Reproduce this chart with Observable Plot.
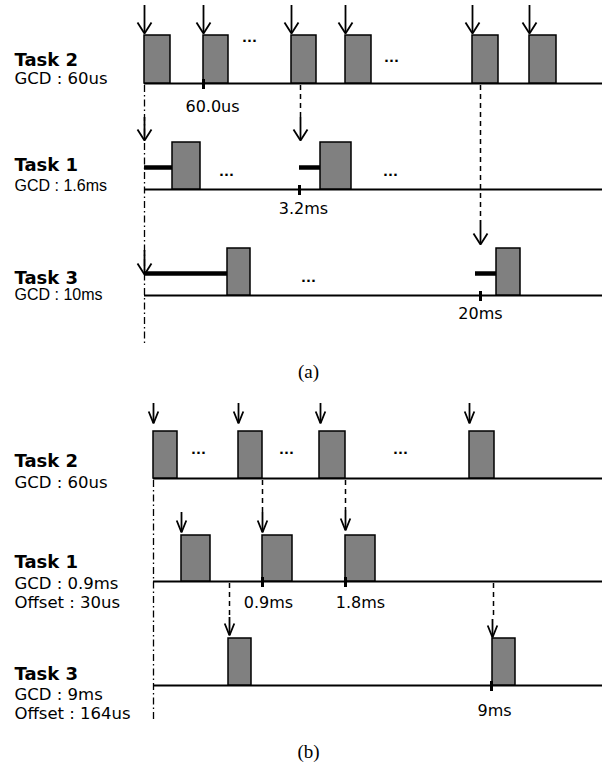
<!DOCTYPE html>
<html><head><meta charset="utf-8">
<script src="https://cdn.jsdelivr.net/npm/d3@7"></script>
<script src="https://cdn.jsdelivr.net/npm/@observablehq/plot@0.6"></script>
<style>html,body{margin:0;padding:0;background:#fff;} svg{display:block}</style>
</head><body><div id="chart"></div>
<script>
// ---- rows (timelines) ----
const rowNames = ["Task 2","Task 1","Task 3","Task 2","Task 1","Task 3"];
const rowParams = [["GCD : 60us"],["GCD : 1.6ms"],["GCD : 10ms"],["GCD : 60us"],["GCD : 0.9ms","Offset : 30us"],["GCD : 9ms","Offset : 164us"]];
const rowBase = [83,189,295,478,581,685];
const rowTop = [35,142,248,431,535,638];
const rowStart = [144,144,144,153,153,153];
const rowEnd = 602;
const nameY = [65,170,283,466,567,679];
const paramY = [[83],[190],[299],[487],[588,607],[699,718]];
const labelX = 14;

// ---- jobs (grey boxes) ----
const jobRow   = [0,0,0,0,0,0, 1,1, 2,2, 3,3,3,3, 4,4,4, 5,5];
const jobStart = [144,203,291,345,472,529, 172,320, 227,496, 153,238,319,469, 181,262,345, 228,492];
const jobEnd   = [170,228,316,371,498,556, 200,351, 250,520, 177,262,345,494, 210,292,375, 251,515];

// ---- releases (arrows) ----
const releaseRow = [0,0,0,0,0,0, 1,1, 2,2, 3,3,3,3, 4,4,4, 5,5];
const releaseX   = [144,203,291,345,472,529, 144,300, 144,480, 153,238,320,469, 181,262,345, 229,492];
const releaseTip = [33,33,33,33,33,33, 140,140, 274,244, 423,423,423,423, 532,532,530, 635,637];
const releaseLen = [28,23,24,20,20,18];

// ---- waiting (thick bars) ----
const waitRow = [1,1,2,2];
const waitStart = [144,299,144,475];
const waitEnd = [172,320,227,496];

// ---- ticks ----
const tickRow = [0,1,2,4,4,5];
const tickX = [203,299,480,262,345,491];
const tickLabel = ["60.0us","3.2ms","20ms","0.9ms","1.8ms","9ms"];
const tickLabelX = [212,303,480,268,360,494];
const tickLabelY = [111,213,318,607,607,715];

// ---- connectors ----
const linkX  = [144,300,480,153,262,345,229,493];
const linkY1 = [85,85,85,480,480,480,583,583];
const linkY2 = [346,117,220,720,512,510,617,619];
const linkKind = ["dashdot","dash","dash","dashdot","dash","dash","dash","dash"];

// ---- ellipses ----
const dotX = [249,391,226,390,308,198,286,400];
const dotY = [38,58,172,172,278,450,450,450];

// ---- captions ----
const captionText = ["(a)","(b)"];
const captionX = [308,308];
const captionY = [377,757];

// build tables
const rows = rowNames.map((name,i)=>({name, i, base:rowBase[i], top:rowTop[i], start:rowStart[i], end:rowEnd, ny:nameY[i]}));
const params = rowParams.flatMap((ps,i)=>ps.map((t,j)=>({t, i, y:paramY[i][j]})));
const jobs = jobRow.map((r,k)=>({x0:jobStart[k], x1:jobEnd[k], y1:rowTop[r], y2:rowBase[r]}));
const rels = releaseRow.map((r,k)=>({k, x:releaseX[k], tip:releaseTip[k], from:releaseTip[k]-releaseLen[r], panel: r<3?"a":"b"}));
// arrowhead wings (open V)
const headW = {a:7, b:4.8}, headH = {a:11, b:12};
const heads = rels.flatMap(d=>[
  {k:d.k, x:d.x-headW[d.panel], y:d.tip-headH[d.panel]},
  {k:d.k, x:d.x, y:d.tip},
  {k:d.k, x:d.x+headW[d.panel], y:d.tip-headH[d.panel]}
]);
const waits = waitRow.map((r,k)=>({x0:waitStart[k], x1:waitEnd[k], y:(rowTop[r]+rowBase[r])/2+1.5}));
const ticks = tickRow.map((r,k)=>({x:tickX[k], y1:rowBase[r]-4, y2:rowBase[r]+6, label:tickLabel[k], lx:tickLabelX[k], ly:tickLabelY[k]}));
const links = linkX.map((x,k)=>({x, y1:linkY1[k], y2:linkY2[k], kind:linkKind[k]}));
const dots = dotX.map((x,k)=>({x, y:dotY[k]}));
const caps = captionText.map((t,k)=>({t, x:captionX[k], y:captionY[k]}));
const arialRows = new Set([1,2]);

const chart = Plot.plot({
  width: 605, height: 766, margin: 0,
  x: {domain:[0,605], range:[0,605], axis:null},
  y: {domain:[0,766], range:[0,766], axis:null},
  style: {background:"white"},
  marks: [
    Plot.ruleX(links.filter(d=>d.kind==="dashdot"), {x:"x", y1:"y1", y2:"y2", stroke:"black", strokeWidth:1.3, strokeDasharray:"7,3,1.5,3"}),
    Plot.ruleX(links.filter(d=>d.kind==="dash"), {x:"x", y1:"y1", y2:"y2", stroke:"black", strokeWidth:1.5, strokeDasharray:"5,4"}),
    Plot.ruleY(rows, {y:"base", x1:"start", x2:"end", stroke:"black", strokeWidth:1.8}),
    Plot.ruleY(waits, {y:"y", x1:"x0", x2:"x1", stroke:"black", strokeWidth:4.5}),
    Plot.rect(jobs, {x1:"x0", x2:"x1", y1:"y1", y2:"y2", fill:"#808080", stroke:"black", strokeWidth:1.5}),
    Plot.ruleX(ticks, {x:"x", y1:"y1", y2:"y2", stroke:"black", strokeWidth:3}),
    Plot.ruleX(rels, {x:"x", y1:"from", y2:"tip", stroke:"black", strokeWidth:1.8}),
    Plot.line(heads, {x:"x", y:"y", z:"k", stroke:"black", strokeWidth:1.8, curve:"linear", strokeLinejoin:"miter", strokeLinecap:"butt"}),
    Plot.text(rows, {x:()=>labelX, y:"ny", text:"name", textAnchor:"start", lineAnchor:"bottom", fontFamily:"DejaVu Sans", fontWeight:"bold", fontSize:18, fill:"black"}),
    Plot.text(params.filter(d=>!arialRows.has(d.i)), {x:()=>labelX, y:"y", text:"t", textAnchor:"start", lineAnchor:"bottom", fontFamily:"DejaVu Sans", fontSize:16.5, fill:"black"}),
    Plot.text(params.filter(d=>arialRows.has(d.i)), {x:()=>labelX, y:"y", text:"t", textAnchor:"start", lineAnchor:"bottom", fontFamily:"Liberation Sans", fontSize:16, fill:"black"}),
    Plot.text(ticks, {x:"lx", y:"ly", text:"label", textAnchor:"middle", lineAnchor:"bottom", fontFamily:"DejaVu Sans", fontSize:16, fill:"black"}),
    Plot.text(dots, {x:"x", y:"y", text:()=>"...", textAnchor:"middle", lineAnchor:"bottom", dy:3, fontFamily:"DejaVu Sans", fontWeight:"bold", fontSize:13, fill:"black"}),
    Plot.text(caps, {x:"x", y:"y", text:"t", textAnchor:"middle", lineAnchor:"bottom", fontFamily:"Liberation Serif", fontSize:19, fill:"black"})
  ]
});
document.getElementById("chart").appendChild(chart);
</script>
</body></html>
